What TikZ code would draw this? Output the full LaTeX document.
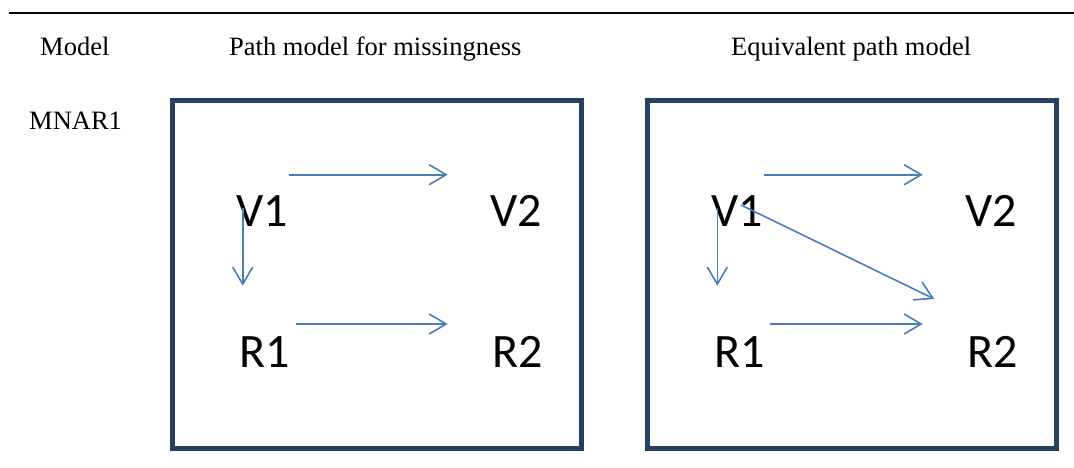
\documentclass[tikz,border=0pt]{standalone}
\usepackage{fontspec}
\setmainfont{Liberation Serif}
\newfontfamily\varfont{Carlito}
\usetikzlibrary{arrows.meta}
\definecolor{boxcol}{RGB}{37,64,97}
\definecolor{arrcol}{RGB}{74,126,187}
\begin{document}
\begin{tikzpicture}[x=1pt,y=-1pt,
  header/.style={anchor=base west,inner sep=0pt,font=\fontsize{26.5}{30}\selectfont},
  var/.style={anchor=base west,inner sep=0pt,font=\varfont\fontsize{48}{52}\selectfont},
  panel/.style={draw=boxcol,line width=5pt,inner sep=0pt,minimum height=348pt},
  path/.style={draw=arrcol,line width=1.6pt,-{Straight Barb[length=17pt,width=20pt]}}
]
\useasboundingbox (0,0) rectangle (1074,467);
% top rule
\coordinate (ruleL) at (9,12.7);
\coordinate (ruleR) at (1074,12.7);
\draw[line width=2.2pt] (ruleL) -- (ruleR);
% headers
\node[header] (hmodel) at (40,55.7) {Model};
\node[header] (hpath) at (229,55.7) {Path model for missingness};
\node[header] (hequiv) at (731,55.7) {Equivalent path model};
\node[header] (mnar) at (29,129) {MNAR1};
% panels
\node[panel,minimum width=408.6pt] (box1) at (377,274) {};
\node[panel,minimum width=409.3pt] (box2) at (851.7,274) {};
% panel 1 variables
\node[var] (aV1) at (236,226) {V1};
\node[var] (aV2) at (490,226) {V2};
\node[var] (aR1) at (239,367) {R1};
\node[var] (aR2) at (492,367) {R2};
% panel 2 variables
\node[var] (bV1) at (711,226) {V1};
\node[var] (bV2) at (965,226) {V2};
\node[var] (bR1) at (714,367) {R1};
\node[var] (bR2) at (967,367) {R2};
% arrow end points, panel 1
\coordinate (aV1e) at (289,174.7);
\coordinate (aV2w) at (447.7,174.7);
\coordinate (aV1s) at (242.7,208);
\coordinate (aR1n) at (242.7,285.7);
\coordinate (aR1e) at (295.7,324);
\coordinate (aR2w) at (447.7,324);
% arrow end points, panel 2
\coordinate (bV1e) at (763.7,174.7);
\coordinate (bV2w) at (922.7,174.7);
\coordinate (bV1s) at (717.3,208);
\coordinate (bR1n) at (717.3,285.7);
\coordinate (bR1e) at (770,324);
\coordinate (bR2w) at (922.7,324);
\coordinate (bV1d) at (741,205);
\coordinate (bR2d) at (934.3,299);
% arrows panel 1
\draw[path] (aV1e) -- (aV2w);
\draw[path] (aV1s) -- (aR1n);
\draw[path] (aR1e) -- (aR2w);
% arrows panel 2
\draw[path] (bV1e) -- (bV2w);
\draw[path] (bV1s) -- (bR1n);
\draw[path] (bR1e) -- (bR2w);
\draw[path] (bV1d) -- (bR2d);
\end{tikzpicture}
\end{document}
